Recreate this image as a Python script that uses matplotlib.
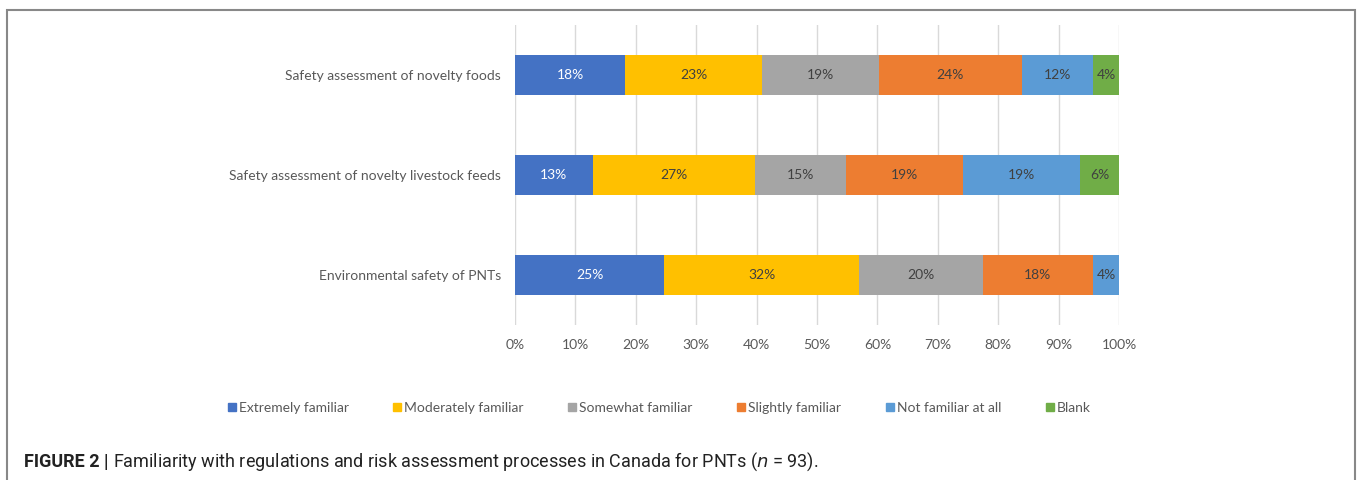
import numpy as np
import matplotlib.pyplot as plt
from matplotlib.patches import Rectangle
from matplotlib.lines import Line2D

# respondent counts per answer (n = 93), top row first
n_total = 93
categories = [
    "Safety assessment of novelty foods",
    "Safety assessment of novelty livestock feeds",
    "Environmental safety of PNTs",
]
levels = ["Extremely familiar", "Moderately familiar", "Somewhat familiar",
          "Slightly familiar", "Not familiar at all", "Blank"]
extremely = [17, 12, 23]
moderately = [21, 25, 30]
somewhat = [18, 14, 19]
slightly = [22, 18, 17]
not_at_all = [11, 18, 4]
blank = [4, 6, 0]
colors = ["#4472C4", "#FFC000", "#A5A5A5", "#ED7D31", "#5B9BD5", "#70AD47"]
label_colors = ["white", "#404040", "#404040", "#404040", "#404040", "#404040"]
xticks = np.arange(0, 101, 10)

series = [extremely, moderately, somewhat, slightly, not_at_all, blank]

fig = plt.figure(figsize=(13.58, 4.8), dpi=100)
W, H = 1358, 480

ax = fig.add_axes([515 / W, 1 - 325 / H, 604 / W, 300 / H])
y = np.arange(len(categories))
left = np.zeros(len(categories))
for vals, col, lcol, name in zip(series, colors, label_colors, levels):
    pct = np.array(vals) / n_total * 100
    ax.barh(y, pct, left=left, height=0.4, color=col, label=name, zorder=3)
    for yi, (l, p) in enumerate(zip(left, pct)):
        if p > 0:
            ax.text(l + p / 2, yi, f"{round(p):.0f}%", ha="center", va="center",
                    fontsize=10, color=lcol, family="Lato", zorder=4)
    left += pct

ax.set_xlim(0, 100)
ax.set_ylim(len(categories) - 0.5, -0.5)
ax.set_xticks(xticks)
ax.set_xticklabels([f"{t}%" for t in xticks], family="Lato", fontsize=10, color="#595959")
ax.set_yticks(y)
ax.set_yticklabels(categories, family="Lato", fontsize=10, color="#595959")
ax.tick_params(length=0, pad=10)
ax.tick_params(axis="y", pad=10)
ax.grid(axis="x", color="#D9D9D9", linewidth=1, zorder=0)
for s in ax.spines.values():
    s.set_visible(False)

handles = [Line2D([], [], marker="s", linestyle="none", markersize=6,
                  markerfacecolor=c, markeredgecolor=c) for c in colors]
fig.legend(handles, levels, loc="center", bbox_to_anchor=(659 / W, 1 - 408 / H),
           ncol=6, frameon=False, handlelength=0.6, handletextpad=0.2,
           columnspacing=3.2, prop={"family": "Lato", "size": 10},
           labelcolor="#595959")

# outer frame
fig.add_artist(Rectangle((7 / W, -0.05), (1355 - 7) / W, 1 - 10 / H + 0.05,
                         transform=fig.transFigure, fill=False,
                         edgecolor="#888888", linewidth=1.5))

cap_fam = ["Roboto"]
t1 = fig.text(24 / W, 1 - 462 / H, "FIGURE 2 |", fontsize=13, fontweight="bold",
              family=cap_fam, va="center", color="#222222")
fig.canvas.draw()
bb = t1.get_window_extent()
fig.text(bb.x1 / W + 5 / W, 1 - 462 / H,
         "Familiarity with regulations and risk assessment processes in Canada for PNTs ($n$ = 93).",
         fontsize=13, family=cap_fam, va="center", color="#222222")

fig.savefig("out.png", dpi=100)
